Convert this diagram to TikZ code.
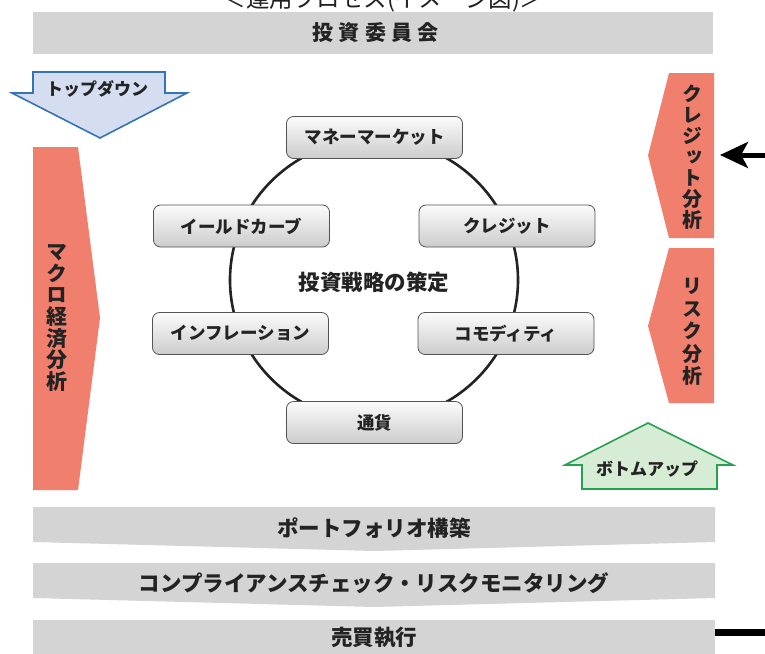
\documentclass[tikz,border=0pt]{standalone}
\usepackage{fontspec}
\usetikzlibrary{arrows.meta}
\setmainfont{Noto Sans CJK JP}
\newfontfamily\jpv{Noto Sans CJK JP}[RawFeature=+vert]
\definecolor{salmon}{RGB}{240,127,110}
\definecolor{barGray}{RGB}{212,212,212}
\definecolor{tdFill}{RGB}{213,222,240}
\definecolor{tdLine}{RGB}{52,116,180}
\definecolor{buFill}{RGB}{214,236,212}
\definecolor{buLine}{RGB}{40,160,80}
\definecolor{ink}{RGB}{35,35,35}
\begin{document}
\begin{tikzpicture}[x=1pt,y=-1pt,
  lbl/.style={text=ink,font=\bfseries\fontsize{#1}{#1}\selectfont,inner sep=0pt},
  vtext/.style 2 args={text=ink,font=\jpv\bfseries\fontsize{#1}{#2}\selectfont,align=center,inner sep=0pt},
  topic/.style={draw=gray!65!black,top color=gray!3,bottom color=gray!40,rounded corners=7pt,
    minimum width=176pt,minimum height=42pt,line width=0.8pt,text=ink,
    font=\bfseries\fontsize{17.5}{17.5}\selectfont,inner sep=0pt},
  bar/.style={fill=barGray},
  analysis/.style={fill=salmon}]
\useasboundingbox (0,0) rectangle (765,653);
\fill[white] (0,0) rectangle (765,653);

% title (cut off at top, as in the original)
\node[anchor=base,text=gray!25!black,font=\fontsize{23.5}{23.5}\selectfont,inner sep=0pt] (title) at (383,7.5) {＜運用プロセス(イメージ図)＞};

% committee bar
\fill[bar] (33,12) rectangle (713,54);
\node[lbl=21] (committee) at (375.5,33) {\addfontfeature{LetterSpace=25}投資委員会};

% top-down arrow
\filldraw[fill=tdFill,draw=tdLine,line width=1.6pt,line join=miter]
  (33,72) -- (165,72) -- (165,93) -- (187,93) -- (100,138) -- (12,93) -- (33,93) -- cycle;
\node[lbl=17] (topdown) at (97,89) {トップダウン};

% macro analysis
\fill[analysis] (33,147) -- (78,147) -- (100,318) -- (78,490) -- (33,490) -- cycle;
\node[vtext={21}{21.6}] (macro) at (57,318) {マ\\ク\\ロ\\経\\済\\分\\析};

% credit analysis
\fill[analysis] (669,73) -- (714,73) -- (714,238) -- (669,238) -- (648,155.5) -- cycle;
\node[vtext={20}{21}] (creditA) at (692,157) {ク\\レ\\ジ\\ッ\\ト\\分\\析};

% risk analysis
\fill[analysis] (669,248) -- (714,248) -- (714,403) -- (669,403) -- (648,326) -- cycle;
\node[vtext={20}{22.5}] (riskA) at (692,332) {リ\\ス\\ク\\分\\析};

% black arrow into credit analysis
\coordinate (crFree) at (765,155);
\coordinate (crTip) at (720,155);
\draw[line width=5pt,-{Stealth[length=28pt,width=26pt,inset=7pt]}] (crFree) -- (crTip);

% bottom-up arrow
\filldraw[fill=buFill,draw=buLine,line width=1.6pt,line join=miter]
  (648,423) -- (733,465) -- (717,465) -- (717,489) -- (582,489) -- (582,465) -- (565,465) -- cycle;
\node[lbl=17] (bottomup) at (647,469) {ボトムアップ};

% strategy cycle
\draw[line width=2.6pt,ink] (374,280) ellipse [x radius=144,y radius=141];
\node[lbl=21.5] (strategy) at (374,282) {投資戦略の策定};
\node[topic] (mm)  at (374.5,137.5) {マネーマーケット};
\node[topic] (yc)  at (241.5,226)   {イールドカーブ};
\node[topic] (cr)  at (507,226)     {クレジット};
\node[topic] (inf) at (240.5,333.5) {インフレーション};
\node[topic] (com) at (506,333.5)   {コモディティ};
\node[topic] (cur) at (374.5,422.5) {通貨};

% lower bars
\fill[bar] (33,507) -- (715,507) -- (715,542) -- (374,551) -- (33,542) -- cycle;
\node[lbl=21.5] (portfolio) at (374,528) {ポートフォリオ構築};
\fill[bar] (33,563) -- (715,563) -- (715,598) -- (374,607) -- (33,598) -- cycle;
\node[lbl=21.5] (compliance) at (374,583) {コンプライアンスチェック・リスクモニタリング};
\fill[bar] (33,620) rectangle (715,660);
\node[lbl=21.5] (trade) at (374,638) {売買執行};

% black line at right of trade bar
\coordinate (trStart) at (715,632);
\coordinate (trEnd) at (765,632);
\draw[line width=7pt] (trStart) -- (trEnd);
\end{tikzpicture}
\end{document}
